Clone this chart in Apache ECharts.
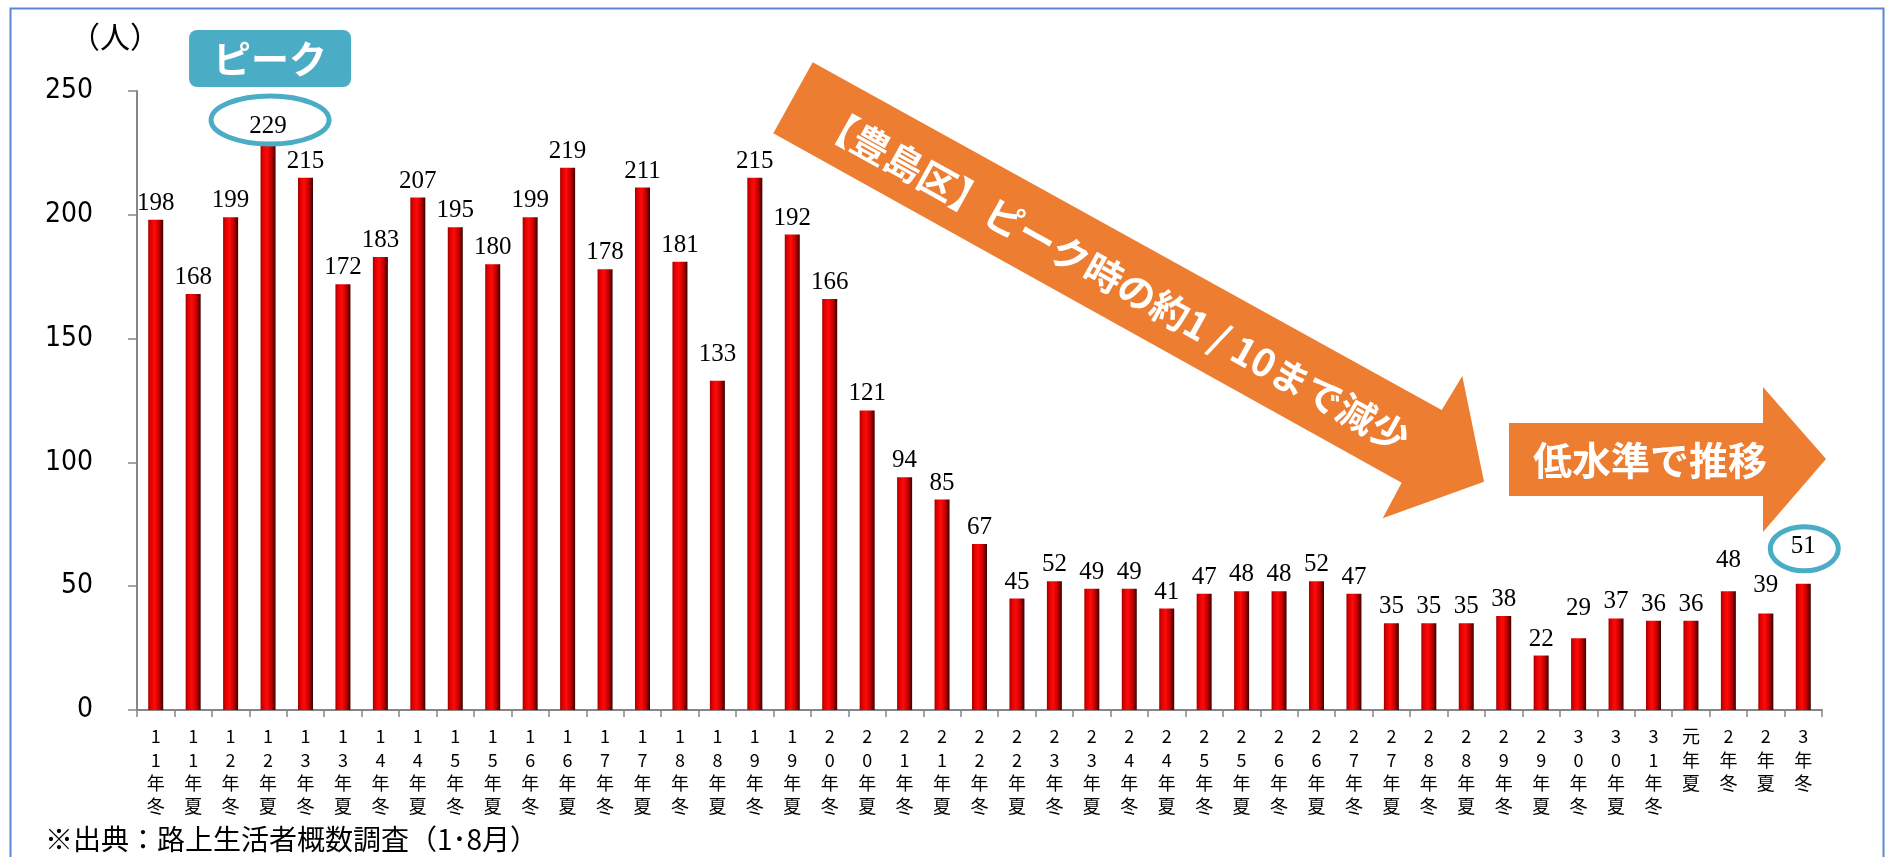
<!DOCTYPE html>
<html>
<head>
<meta charset="utf-8">
<script src="https://cdn.jsdelivr.net/npm/echarts@6/dist/echarts.min.js"></script>
<style>
html,body{margin:0;padding:0;background:#fff;}
#chart{width:1886px;height:857px;}
</style>
</head>
<body>
<div id="chart"></div>
<script>
const categories = ['11年冬','11年夏','12年冬','12年夏','13年冬','13年夏','14年冬','14年夏','15年冬','15年夏','16年冬','16年夏','17年冬','17年夏','18年冬','18年夏','19年冬','19年夏','20年冬','20年夏','21年冬','21年夏','22年冬','22年夏','23年冬','23年夏','24年冬','24年夏','25年冬','25年夏','26年冬','26年夏','27年冬','27年夏','28年冬','28年夏','29年冬','29年夏','30年冬','30年夏','31年冬','元年夏','2年冬','2年夏','3年冬'];
const values = [198,168,199,229,215,172,183,207,195,180,199,219,178,211,181,133,215,192,166,121,94,85,67,45,52,49,49,41,47,48,48,52,47,35,35,35,38,22,29,37,36,36,48,39,51];
const yTicks = [0,50,100,150,200,250];
const unitLabel = '（人）';
const sourceNote = '※出典：路上生活者概数調査（1･8月）';
const peakText = 'ピーク';
const declineText = '【豊島区】ピーク時の約1 / 10まで減少';
const flatText = '低水準で推移';
const peakIndex = 3;
const lastIndex = 44;
// extra label lift (px) for labels placed higher in the original
const labelLift = {15: 10, 38: 13, 42: 14, 43: 11, 44: 21};

const chart = echarts.init(document.getElementById('chart'), null, {renderer: 'canvas'});

const barColor = new echarts.graphic.LinearGradient(0, 0, 1, 0, [
  {offset: 0, color: '#9a0000'},
  {offset: 0.15, color: '#e00000'},
  {offset: 0.42, color: '#ff0a0a'},
  {offset: 0.72, color: '#c20000'},
  {offset: 1, color: '#3a0000'}
]);

const seriesData = values.map((v, i) => {
  const item = {value: v};
  if (labelLift[i]) item.label = {distance: 4 + labelLift[i]};
  return item;
});

const option = {
  animation: false,
  backgroundColor: '#ffffff',
  grid: {left: 137, right: 64, top: 91, bottom: 147, containLabel: false},
  xAxis: {
    type: 'category',
    data: categories,
    boundaryGap: true,
    axisLine: {lineStyle: {color: '#868686', width: 2}},
    axisTick: {show: true, length: 7, interval: 0, lineStyle: {color: '#868686', width: 1.5}},
    axisLabel: {
      interval: 0,
      margin: 15,
      color: '#000',
      fontSize: 18,
      lineHeight: 23.3,
      fontFamily: '"Noto Sans CJK JP", "Noto Sans", sans-serif',
      formatter: v => v.split('').join('\n')
    },
    splitLine: {show: false}
  },
  yAxis: {
    type: 'value',
    min: yTicks[0],
    max: yTicks[yTicks.length - 1],
    interval: yTicks[1] - yTicks[0],
    axisLine: {show: true, lineStyle: {color: '#868686', width: 2}},
    axisTick: {show: true, length: 9, lineStyle: {color: '#868686', width: 1.5}},
    axisLabel: {
      margin: 44,
      color: '#000',
      fontSize: 28,
      fontFamily: '"Liberation Sans Narrow", "DejaVu Sans Condensed", "Liberation Sans", sans-serif'
    },
    splitLine: {show: false}
  },
  series: [{
    type: 'bar',
    data: seriesData,
    barWidth: 15,
    itemStyle: {color: barColor},
    label: {
      show: true,
      position: 'top',
      distance: 4,
      color: '#000',
      fontSize: 25,
      fontFamily: '"Liberation Serif", "DejaVu Serif", serif'
    }
  }]
};
chart.setOption(option);

const p = (i, v) => chart.convertToPixel({seriesIndex: 0}, [i, v]);
const peakPt = p(peakIndex, values[peakIndex]);
const lastPt = p(lastIndex, values[lastIndex]);
const orange = '#ED7D31';
const teal = '#4BACC6';
const cjkBold = '"Noto Sans CJK JP", "Noto Sans", sans-serif';

chart.setOption({
  graphic: [
    {type: 'rect', left: 8, top: 6, shape: {x: 0, y: 0, width: 1873, height: 870}, style: {fill: 'none', stroke: '#5b87d4', lineWidth: 2}, silent: true, z: 1},
    {type: 'text', x: 115, y: 37, style: {text: unitLabel, fill: '#000', font: '30px ' + cjkBold, align: 'center', verticalAlign: 'middle', textAlign: 'center', textVerticalAlign: 'middle'}, z: 10},
    {type: 'text', x: 45, y: 839, style: {text: sourceNote, fill: '#000', font: '28px ' + cjkBold, align: 'left', verticalAlign: 'middle', textAlign: 'left', textVerticalAlign: 'middle'}, z: 10},
    // peak badge
    {type: 'rect', shape: {x: peakPt[0] - 79, y: 30, width: 162, height: 57, r: 8}, style: {fill: teal}, z: 10},
    {type: 'text', x: peakPt[0] + 2, y: 59, style: {text: peakText, fill: '#fff', font: 'bold 38px ' + cjkBold, align: 'center', verticalAlign: 'middle', textAlign: 'center', textVerticalAlign: 'middle'}, z: 11},
    // ellipses
    {type: 'ellipse', shape: {cx: peakPt[0] + 2, cy: peakPt[1] - 23, rx: 59, ry: 24}, style: {fill: 'none', stroke: teal, lineWidth: 5}, z: 12},
    {type: 'ellipse', shape: {cx: lastPt[0] + 1, cy: lastPt[1] - 35, rx: 34, ry: 22}, style: {fill: 'none', stroke: teal, lineWidth: 5}, z: 12},
    // diagonal arrow
    {type: 'polygon', shape: {points: [[812.7,62.3],[1441.7,410],[1462.3,376],[1484,481.7],[1382.7,518.3],[1401.7,482.7],[773.3,133.3]]}, style: {fill: orange}, z: 8},
    {type: 'text', x: 1114, y: 279, rotation: -0.5067, style: {text: declineText, fill: '#fff', font: 'bold 38px ' + cjkBold, align: 'center', verticalAlign: 'middle', textAlign: 'center', textVerticalAlign: 'middle'}, z: 9},
    // horizontal arrow
    {type: 'polygon', shape: {points: [[1509,423],[1763,423],[1763,387],[1826,459],[1763,532],[1763,496],[1509,496]]}, style: {fill: orange}, z: 8},
    {type: 'text', x: 1650, y: 460, style: {text: flatText, fill: '#fff', font: 'bold 39px ' + cjkBold, align: 'center', verticalAlign: 'middle', textAlign: 'center', textVerticalAlign: 'middle'}, z: 9}
  ]
});
</script>
</body>
</html>
